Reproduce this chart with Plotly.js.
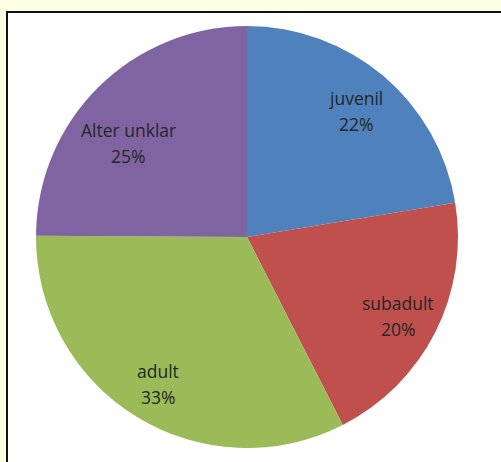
<!DOCTYPE html>
<html>
<head>
<meta charset="utf-8">
<script src="https://cdn.plot.ly/plotly-3.0.1.min.js"></script>
<style>
  html, body { margin: 0; padding: 0; background: #FEFEE2; }
  #chart { width: 501px; height: 462px; }
</style>
</head>
<body>
<div id="chart"></div>
<script>
// ---- data ----
const labels = ['juvenil', 'subadult', 'adult', 'Alter unklar'];
const values = [22.4, 20.1, 32.6, 24.9];
const colors = ['#4F81BD', '#C0504D', '#9BBB59', '#8064A2'];

// ---- geometry (pixels) ----
const W = 501, H = 462;
const cx = 247, cy = 237, R = 211;
const FONT_SIZE = 17.5;
const FONT_FAMILY = 'Open Sans, Liberation Sans, sans-serif';
const LINE_GAP = 26;
const TEXT_DROP = 3;

const total = values.reduce((a, b) => a + b, 0);
const pctText = values.map(v => Math.round(v / total * 100) + '%');

const ctx = document.createElement('canvas').getContext('2d');
ctx.font = FONT_SIZE + 'px "Open Sans"';
function textW(s) { return ctx.measureText(s).width; }

const annotations = [];
let cum = 0;
values.forEach((v, i) => {
  const mid = (cum + v / 2) / total * 2 * Math.PI;
  cum += v;
  const lines = [
    { hw: textW(labels[i]) / 2, dy: -LINE_GAP / 2 },
    { hw: textW(pctText[i]) / 2, dy: LINE_GAP / 2 }
  ];
  const hh = 8;
  const r = 0.8 * R;
  const limit = R - 7;
  let x = r * Math.sin(mid), y = -r * Math.cos(mid);
  // push the label vertically toward the centre until every line fits in the circle
  const step = y < 0 ? 0.5 : -0.5;
  for (let k = 0; k < 400; k++) {
    let ok = true;
    for (const ln of lines) for (const sx of [-1, 1]) for (const sy of [-1, 1]) {
      if (Math.hypot(x + sx * ln.hw, y + ln.dy + sy * hh) > limit) ok = false;
    }
    if (ok) break;
    y += step;
  }
  const px = cx + x;
  const py = cy + y + TEXT_DROP;
  const common = {
    xref: 'paper', yref: 'paper', x: px / W, y: 1 - py / H,
    showarrow: false, xanchor: 'center', yanchor: 'middle',
    font: { family: FONT_FAMILY, size: FONT_SIZE, color: '#262626' }
  };
  annotations.push(Object.assign({}, common, { text: labels[i], yshift: LINE_GAP / 2 }));
  annotations.push(Object.assign({}, common, { text: pctText[i], yshift: -LINE_GAP / 2 }));
});

const trace = {
  type: 'pie',
  labels: labels,
  values: values,
  sort: false,
  direction: 'clockwise',
  rotation: 0,
  textinfo: 'none',
  hoverinfo: 'label+percent',
  marker: { colors: colors, line: { width: 0 } },
  domain: {
    x: [(cx - R) / W, (cx + R) / W],
    y: [1 - (cy + R) / H, 1 - (cy - R) / H]
  }
};

const layout = {
  width: W, height: H,
  margin: { l: 0, r: 0, t: 0, b: 0 },
  paper_bgcolor: '#FEFEE2',
  showlegend: false,
  shapes: [
    {
      type: 'rect', xref: 'paper', yref: 'paper', layer: 'below',
      x0: 8.5 / W, x1: 1.1, y0: 1 - 13.5 / H, y1: -0.1,
      line: { color: '#B8B8B0', width: 2 }, fillcolor: 'rgba(0,0,0,0)'
    },
    {
      type: 'rect', xref: 'paper', yref: 'paper', layer: 'below',
      x0: 7 / W, x1: 1.1, y0: 1 - 12 / H, y1: -0.1,
      line: { color: '#111111', width: 2 }, fillcolor: '#FFFFFF'
    }
  ],
  annotations: annotations
};

Plotly.newPlot('chart', [trace], layout, { displayModeBar: false, staticPlot: true });
</script>
</body>
</html>
